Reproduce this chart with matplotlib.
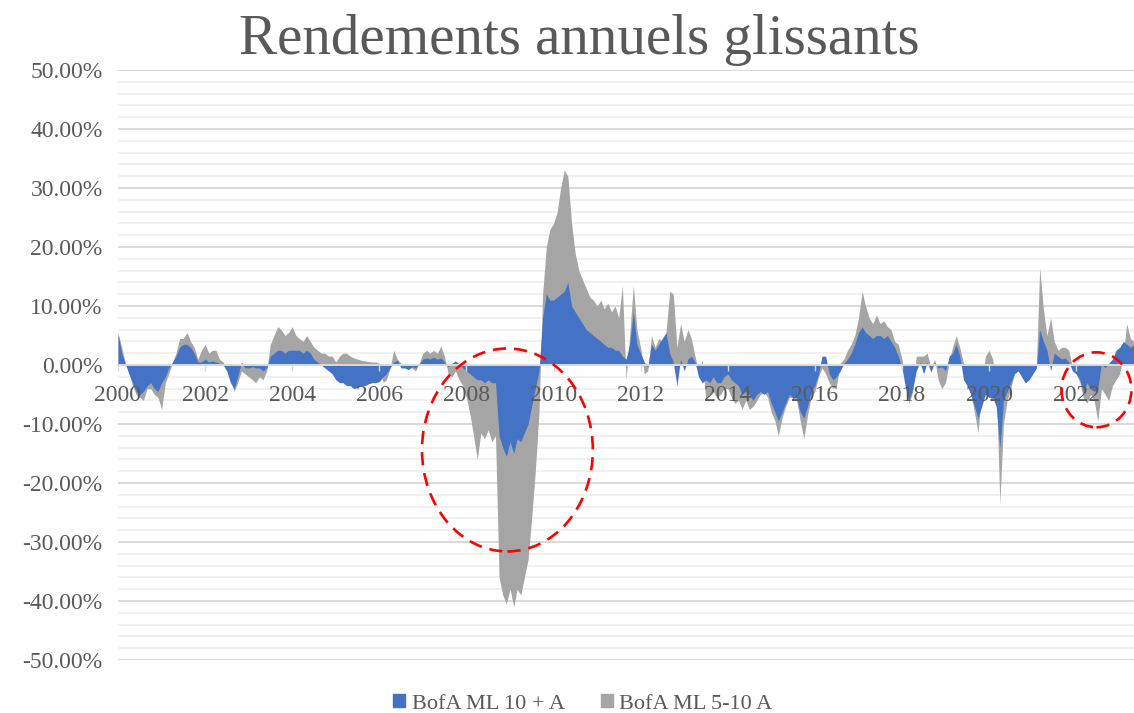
import matplotlib
matplotlib.use("Agg")
import matplotlib.pyplot as plt
import matplotlib.dates as mdates
from matplotlib.patches import Ellipse, Patch
import numpy as np
import pandas as pd

# rolling 1-year returns (%), monthly, Jan 2000 -> May 2023
BLUE_LABEL = "BofA ML 10 + A"
GRAY_LABEL = "BofA ML 5-10 A"

blue = [
    5.2, 2, 0.3, -1.5, -3, -4.5, -5, -4.5, -3.5, -3, -4, -4.5,            # 2000
    -3, -2, -0.5, 0.5, 1.5, 3, 3.5, 3.5, 3, 2, 0.5, 0.5,                   # 2001
    1, 0.5, 0.7, 0.5, 0.3, 0, -1, -3, -4, -2, 0.5, -0.5,                   # 2002
    -0.5, -0.3, -0.5, -0.5, -1, -0.5, 1.5, 2, 2.5, 2.5, 2, 2.5,            # 2003
    2.5, 2.5, 2.5, 2, 2.5, 2, 1, 0.5, 0, -0.5, -1, -1.5,                   # 2004
    -2.5, -3, -3, -3.5, -3.5, -4, -3.8, -3.5, -3.5, -3.2, -3, -3,          # 2005
    -2.8, -2, -1.5, -0.5, 0.5, 0.8, -0.5, -0.5, -0.8, -0.3, -0.5, 0.2,     # 2006
    1, 1.2, 1, 1.3, 1, 1.2, 0.5, -0.3, 0.3, 0.7, 0.2, -0.5,                # 2007
    -1, -1.5, -2, -2.5, -2.5, -3, -2.5, -3, -3, -12, -14, -15.5,           # 2008
    -13, -15, -12.5, -13, -11.5, -10, -7, -4, -1, 8, 12, 11,               # 2009
    11, 11.5, 12, 12.5, 14, 10, 9, 8, 7, 6, 5.5, 5,                        # 2010
    4.5, 4, 3.5, 3, 3, 2.5, 2.5, 1.5, 1, 3.5, 9, 3.5,                      # 2011
    2, 0.5, -0.3, 3.5, 2.5, 3.5, 4.5, 5.5, 2, 0.5, -3.5, 1,                # 2012
    -1, 1, 1.5, 0.5, -2, -3, -2.5, -3, -2, -3, -3, -2,                     # 2013
    -1.5, -2.5, -3, -3.5, -5, -4.5, -5, -6, -5, -4.5, -5, -4.5,            # 2014
    -6.5, -8, -9.5, -8, -6.5, -5, -5.5, -5.5, -8, -9, -7, -4.5,            # 2015
    -3.5, -1.5, 1.5, 1.5, -1.5, -2.5, -2, -1, 0.3, 1, 2, 3.5,              # 2016
    5.5, 6.5, 5.5, 5, 4.5, 5, 5, 4.5, 5, 4, 3, 1.5,                        # 2017
    -0.5, -4, -6, -4, -1, 0.5, -1.5, 0.5, -1.2, 0.5, -0.5, -0.3,           # 2018
    -1, 1.5, 2, 3.5, 1.5, -2.5, -3.5, -5, -7, -9, -7, -5,                  # 2019
    -5.5, -5.5, -7, -14, -6, -4.5, -3, -1.5, -1, -2, -3, -2.5,             # 2020
    -1.5, -0.5, 6, 4, 2.5, -1, 2, 1.5, 1, 1.2, 0.5, -1,                    # 2021
    -1.5, -2.5, -4.5, -3, -4, -4.5, -4, 0.2, -0.5, 0.3, 1, 2.5,            # 2022
    3, 4, 3.5, 3, 3.5,                                                     # 2023
]

gray = [
    5.5, 3, 0.5, -1, -3.5, -5, -5.5, -6, -4, -4, -5, -5.5,                 # 2000
    -7.5, -3, -1.5, 0.3, 2, 4.5, 4.5, 5.5, 4, 3, 1, 2.5,                   # 2001
    3.5, 2, 2.5, 2.5, 1, 0.5, -0.5, -2.5, -4.5, -3, -1, -1.5,              # 2002
    -2, -2.5, -3, -2, -2.5, -1, 3.5, 5, 6.5, 6, 5, 5.5,                    # 2003
    6.5, 5, 4.5, 4, 5, 4, 3, 2.5, 2, 2, 1.5, 1.5,                          # 2004
    0.5, 1.5, 2, 2, 1.5, 1.2, 1, 0.8, 0.7, 0.6, 0.5, 0.5,                  # 2005
    0.3, -3, -2.5, -0.5, 2.5, 1, 0.3, -0.3, -0.5, -0.5, -1, 0.3,           # 2006
    2, 2.5, 2, 2.5, 2, 3.2, 1.5, -1.5, -2, -1, -2.5, -3.5,                 # 2007
    -5.5, -8.5, -12, -16, -11.5, -12.5, -11, -13, -12, -36, -39, -40.5,    # 2008
    -38, -41, -38, -39, -36, -33, -26, -18, -8, 12, 20, 23,                # 2009
    24, 26, 30, 33, 32, 24, 19, 16, 14.5, 13, 11.5, 11,                    # 2010
    10, 11, 9.5, 10.5, 9, 10, 8, 13.5, -2.5, 5, 13.5, 6,                   # 2011
    3, -1.5, -1, 5, 3, 4.5, 4, 5.5, 12.5, 12, 3, 7,                        # 2012
    4, 6, 4.5, 1.5, -1, 0.8, -6, -5, -4.5, -5.5, -5, -4,                   # 2013
    -4, -5.5, -6.5, -6, -7.5, -6, -7.5, -7, -6, -5, -4.5, -5.5,            # 2014
    -8, -9.5, -12, -9, -7, -5.5, -5.5, -6, -9.5, -12.5, -8.5, -5.5,        # 2015
    -4.5, -2, -0.5, -1.5, -3, -4, -3.5, 0.3, 1, 2.5, 3.5, 5,               # 2016
    8, 12.5, 10, 8, 7, 8.5, 7, 7.5, 6.5, 6, 4, 3.5,                        # 2017
    1, -3, -6.5, -4.5, 1.5, 1.5, 1.5, 2, -0.5, 1, -2.5, -4,                # 2018
    -3, 0.5, 3, 5, 3, 0.3, -3, -5, -8, -11.5, -4, 1.5,                     # 2019
    2.5, 1, -3, -23.5, -10, -6, -4, -1.5, 0.2, -2, -3, -2.5,               # 2020
    -1.5, -0.5, 16.5, 9.5, 5, 8, 4, 2.5, 3, 3, 2.5, -0.5,                  # 2021
    -1.5, -3, -5.5, -6.5, -5, -6, -9.5, -4, -5, -6, -3.5, -2.5,            # 2022
    -1.5, 2, 7, 4.5, 4,                                                    # 2023
]

dates = pd.date_range("2000-01-01", periods=len(blue), freq="MS")

BLUE = "#4472C4"
GRAY = "#A5A5A5"
TXT = "#595959"

plt.rcParams["font.family"] = ["Liberation Serif", "DejaVu Serif"]

fig = plt.figure(figsize=(11.34, 7.13), dpi=100)
ax = fig.add_axes([118 / 1134, 1 - 660 / 713, 1 - 118 / 1134, (660 - 70) / 713])

# gridlines: minor every 2 %, major every 10 %
for v in np.arange(-50, 51, 2):
    major = v % 10 == 0
    ax.axhline(v, color="#d9d9d9" if major else "#f0f0f0", lw=1.4, zorder=0)

ax.fill_between(dates, gray, 0, color=GRAY, lw=0, zorder=1, label=GRAY_LABEL)
ax.fill_between(dates, blue, 0, color=BLUE, lw=0, zorder=1.5, label=BLUE_LABEL)

ax.set_xlim(dates[0], dates[-1])
ax.set_ylim(-50, 50)
ax.set_yticks(np.arange(-50, 51, 10))
ax.yaxis.set_major_formatter(lambda v, p: f"{v:.2f}%")
ax.tick_params(axis="y", length=0, pad=11, labelsize=17, labelcolor=TXT)

ax.xaxis.set_major_locator(mdates.YearLocator(2))
ax.xaxis.set_major_formatter(mdates.DateFormatter("%Y"))
ax.tick_params(axis="x", direction="out", length=4.5, width=1, color="#d9d9d9",
               pad=10, labelsize=17, labelcolor=TXT)

for s in ["left", "right", "top"]:
    ax.spines[s].set_visible(False)
ax.spines["bottom"].set_position(("data", 0))
ax.spines["bottom"].set_color("#d9d9d9")
ax.spines["bottom"].set_linewidth(1.4)
ax.spines["bottom"].set_zorder(3)
ax.xaxis.set_zorder(3)

# red dashed highlight circles
big = Ellipse((mdates.date2num(pd.Timestamp("2008-12-10")), -14.4), 1433, 34.4,
              fill=False, ec="#FF0000", lw=1.9, ls=(0, (5, 3)), zorder=4)
small = Ellipse((mdates.date2num(pd.Timestamp("2022-06-20")), -4.2), 587, 12.7,
                fill=False, ec="#FF0000", lw=1.9, ls=(0, (5, 3)), zorder=4, clip_on=False)
ax.add_patch(big)
ax.add_patch(small)

fig.text(0.511, 0.944, "Rendements annuels glissants", ha="center", va="center",
         fontsize=41, color=TXT)

handles = [Patch(color=BLUE, label=BLUE_LABEL), Patch(color=GRAY, label=GRAY_LABEL)]
fig.legend(handles=handles, loc="center", bbox_to_anchor=(0.514, 0.013), ncol=2,
           frameon=False, fontsize=16, labelcolor=TXT, handlelength=0.55,
           handleheight=0.55, handletextpad=0.3, columnspacing=1.6)

fig.savefig("out.png", dpi=100, facecolor="white")
